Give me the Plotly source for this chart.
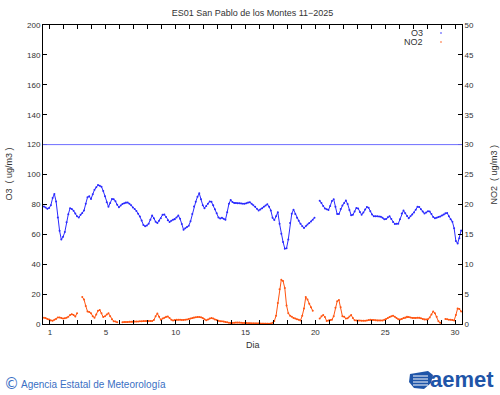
import plotly.graph_objects as go

# ---- data: 3-hourly readings (8 per day), days 1..30 of November 2025 ----
days = list(range(1, 31))
slots_per_day = 8

o3_by_day = [
    [78.6, 77.9, 77.1, 77.6, 79.5, 84.2, 87.0, 82.0],
    [71.3, 62.3, 56.5, 58.3, 61.5, 68.0, 73.4, 77.4],
    [76.9, 75.8, 73.9, 72.0, 71.3, 73.0, 74.2, 75.9],
    [80.5, 84.8, 85.4, 83.6, 86.8, 89.8, 91.4, 92.9],
    [92.5, 91.8, 89.0, 85.5, 81.5, 78.4, 81.0, 83.6],
    [83.5, 82.1, 79.7, 78.1, 79.2, 80.3, 80.7, 81.2],
    [81.2, 80.4, 79.4, 78.0, 77.0, 75.6, 73.8, 71.9],
    [69.2, 66.3, 65.4, 65.9, 67.1, 69.8, 72.5, 70.8],
    [68.4, 67.5, 69.1, 70.8, 73.0, 73.2, 71.6, 69.4],
    [68.3, 69.1, 69.8, 70.1, 71.3, 72.6, 70.4, 66.9],
    [63.1, 64.0, 64.9, 65.8, 68.7, 73.6, 78.6, 81.8],
    [85.1, 87.4, 83.4, 79.5, 77.5, 79.0, 80.5, 82.0],
    [81.7, 79.4, 76.8, 74.0, 71.2, 70.6, 71.0, 70.4],
    [69.7, 74.8, 80.4, 83.0, 81.6, 81.0, 80.9, 80.8],
    [80.7, 80.6, 80.4, 80.5, 80.8, 81.2, 81.4, 80.4],
    [79.5, 78.4, 77.1, 76.0, 76.6, 77.5, 78.4, 79.3],
    [80.1, 78.5, 76.0, 71.0, 69.5, 72.0, 74.8, 67.0],
    [60.3, 54.9, 50.4, 50.7, 56.5, 67.5, 73.8, 76.5],
    [73.6, 71.0, 69.0, 67.0, 65.4, 64.2, 65.4, 66.5],
    [67.5, 68.5, 69.8, 71.0, None, None, 82.5, 81.0],
    [79.0, 77.3, 76.7, 76.3, 79.0, 82.3, 83.5, 78.5],
    [73.5, 73.5, 77.0, 79.2, 80.9, 82.6, 80.2, 76.3],
    [72.8, 73.0, 75.3, 77.6, 77.3, 75.0, 73.1, 74.5],
    [76.6, 78.3, 77.7, 75.5, 73.2, 72.1, 72.1, 72.0],
    [71.9, 71.8, 71.0, 70.0, 70.2, 71.4, 72.1, 70.2],
    [68.3, 66.9, 67.0, 67.1, 70.1, 73.9, 76.0, 74.0],
    [72.2, 70.8, 72.0, 73.3, 74.5, 76.4, 78.4, 78.2],
    [76.8, 75.3, 73.9, 74.6, 75.4, 75.3, 73.5, 71.6],
    [70.8, 71.1, 71.5, 71.9, 72.6, 73.3, 74.0, 74.3],
    [72.0, 70.0, 68.4, 64.0, 55.5, 53.8, 57.4, 62.5],
]

no2_by_day = [
    [1.05, 1.0, 0.85, 0.75, 0.6, 0.55, 0.7, 0.85],
    [1.1, 1.1, 1.0, 0.9, 0.95, 1.05, 1.2, 1.5],
    [1.65, 1.5, 1.25, 1.8, None, None, 4.5, 4.1],
    [3.0, 2.1, 2.0, 1.8, 1.3, 1.05, 1.6, 2.2],
    [2.35, 1.8, 1.15, 1.3, 1.6, 1.8, 1.3, 0.8],
    [0.45, 0.4, 0.3, None, None, 0.3, 0.32, 0.33],
    [0.35, 0.36, 0.37, 0.38, 0.4, 0.42, 0.43, 0.45],
    [0.47, 0.5, 0.5, 0.5, 0.5, 0.5, 0.5, 0.65],
    [1.3, 1.75, 1.2, 0.7, 0.9, 1.05, 1.2, 1.25],
    [1.0, 0.7, 0.6, 0.65, 0.7, 0.7, 0.7, 0.68],
    [0.67, 0.7, 0.75, 0.82, 0.9, 1.0, 1.08, 1.14],
    [1.17, 1.15, 1.12, 1.0, 0.8, 0.62, 0.75, 0.9],
    [1.0, 0.9, 0.75, 0.65, 0.55, 0.48, 0.45, 0.4],
    [0.35, 0.28, 0.2, 0.15, 0.18, 0.2, 0.23, 0.25],
    [0.23, 0.2, 0.18, 0.17, 0.15, 0.13, 0.12, 0.1],
    [0.1, 0.09, 0.08, 0.07, 0.06, 0.06, 0.06, 0.06],
    [0.06, 0.06, 0.08, 0.2, 0.5, 1.4, 3.5, 5.8],
    [7.4, 7.2, 6.0, 3.1, 1.8, 1.4, 1.2, 1.0],
    [0.9, 0.8, 0.72, 0.6, 1.4, 2.6, 4.5, 4.1],
    [3.4, 2.8, 2.2, None, None, None, 0.9, 1.3],
    [1.5, 1.15, 0.5, 0.6, 0.68, 0.7, 1.3, 2.7],
    [3.8, 4.0, 2.8, 1.3, 1.2, 0.9, 0.95, 1.25],
    [1.5, 1.0, 0.62, 0.58, 0.6, 0.58, 0.55, 0.55],
    [0.55, 0.6, 0.68, 0.7, 0.68, 0.65, 0.62, 0.6],
    [0.6, 0.6, 0.6, 0.7, 0.85, 1.0, 1.15, 1.3],
    [1.4, 1.2, 1.0, 0.8, 0.77, 0.85, 1.0, 1.1],
    [1.2, 1.15, 1.08, 1.02, 1.0, 1.02, 1.04, 1.05],
    [0.95, 0.85, 0.75, 0.77, 0.8, 1.1, 1.6, 2.1],
    [1.8, 1.2, 0.45, 0.2, None, None, 0.85, 0.8],
    [0.72, 0.7, 0.65, 0.6, 1.5, 2.6, 2.5, 2.1],
]

x_tick_labels = [1, 5, 10, 15, 20, 25, 30]
o3_threshold = 120

# time axis: each day's readings are centred on the day number
times, o3, no2 = [], [], []
for d, o_row, n_row in zip(days, o3_by_day, no2_by_day):
    for s in range(slots_per_day):
        times.append(d - 0.5 + (s + 0.5) / slots_per_day)
        o3.append(o_row[s])
        no2.append(n_row[s])

BLUE = "#2a2aff"
ORANGE = "#ff5511"
FONT = "Liberation Sans"
TXT = "#333333"

fig = go.Figure()
fig.add_trace(go.Scatter(x=times, y=o3, mode="lines+markers", name="O3",
                         line=dict(color=BLUE, width=1.0),
                         marker=dict(color=BLUE, size=2.0), yaxis="y",
                         connectgaps=False, showlegend=False))
fig.add_trace(go.Scatter(x=times, y=no2, mode="lines+markers", name="NO2",
                         line=dict(color=ORANGE, width=1.0),
                         marker=dict(color=ORANGE, size=2.0), yaxis="y2",
                         connectgaps=False, showlegend=False))

fig.add_shape(type="line", xref="paper", x0=0, x1=1, yref="y",
              y0=o3_threshold, y1=o3_threshold,
              line=dict(color="#6f6fff", width=1))

fig.update_layout(
    width=500, height=395,
    margin=dict(l=43, r=38, t=25, b=71),
    paper_bgcolor="white", plot_bgcolor="white",
    font=dict(family=FONT, size=8, color=TXT),
    title=dict(text="ES01 San Pablo de los Montes 11\u22122025",
               x=0.5, xref="paper", y=1 - 12.7 / 395, yanchor="middle",
               font=dict(family=FONT, size=9, color=TXT)),
    xaxis=dict(range=[0.5, 30.5], tickmode="array", tickvals=x_tick_labels,
               ticks="inside", ticklen=4, tickcolor="black",
               showline=True, linecolor="black", linewidth=1, mirror="ticks",
               showgrid=False, zeroline=False,
               minor=dict(tickmode="array", tickvals=days, ticks="inside",
                          ticklen=4, tickcolor="black", showgrid=False)),
    yaxis=dict(range=[0, 200], dtick=20, ticks="inside", ticklen=4,
               tickcolor="black", showline=True, linecolor="black",
               linewidth=1, mirror=True, showgrid=False, zeroline=False),
    yaxis2=dict(range=[0, 50], dtick=5, ticks="inside", ticklen=4,
                tickcolor="black", overlaying="y", side="right",
                showline=True, linecolor="black", linewidth=1,
                showgrid=False, zeroline=False),
)

def px_x(px):
    return (px - 43) / 419.0

def px_y(py):
    return (324 - py) / 299.0

annos = [
    dict(text="Dia", x=0.5, y=px_y(345), font=dict(size=9)),
    dict(text="O3  ( ug/m3 )", x=px_x(8), y=0.5, textangle=-90, font=dict(size=9)),
    dict(text="NO2  ( ug/m3 )", x=px_x(493), y=0.5, textangle=-90, font=dict(size=9)),
    dict(text="O3", x=px_x(425), y=px_y(33), xanchor="right", font=dict(size=9)),
    dict(text="NO2", x=px_x(425), y=px_y(42), xanchor="right", font=dict(size=9)),
    dict(text="\u00a9", x=px_x(2), y=px_y(384), xanchor="left",
         font=dict(size=15, color="#3a6fc4", family="DejaVu Sans")),
    dict(text="Agencia Estatal de Meteorolog\u00eda", x=px_x(19), y=px_y(384),
         xanchor="left", font=dict(size=10, color="#3a6fc4", family="Liberation Sans")),
    dict(text="<b>aemet</b>", x=px_x(496), y=px_y(380), xanchor="right",
         font=dict(size=22, color="#1f55a8", family="Liberation Sans")),
]
for a in annos:
    a.setdefault("xref", "paper")
    a.setdefault("yref", "paper")
    a.setdefault("showarrow", False)
    a.setdefault("yanchor", "middle")
    a.setdefault("xanchor", "center")
    fig.add_annotation(**a)

# legend sample dots
for py, col in [(33, BLUE), (42, ORANGE)]:
    fig.add_shape(type="circle", xref="paper", yref="paper",
                  x0=px_x(440.2), x1=px_x(441.8), y0=px_y(py + 0.8), y1=px_y(py - 0.8),
                  fillcolor=col, line=dict(width=0))

# simple aemet emblem
emblem = "M 410 374 L 428 371 L 433 375 L 431 383 L 424 389 L 414 388 L 409 382 Z"
def to_paper_path(p):
    out = []
    toks = p.split()
    i = 0
    while i < len(toks):
        t = toks[i]
        if t in ("M", "L"):
            xx = px_x(float(toks[i + 1])); yy = px_y(float(toks[i + 2]))
            out.append(f"{t} {xx:.5f} {yy:.5f}")
            i += 3
        else:
            out.append(t); i += 1
    return " ".join(out)
fig.add_shape(type="path", xref="paper", yref="paper", path=to_paper_path(emblem),
              fillcolor="#1f55a8", line=dict(width=0))
for yy in (376, 379, 382, 385):
    fig.add_shape(type="line", xref="paper", yref="paper",
                  x0=px_x(413), x1=px_x(428), y0=px_y(yy), y1=px_y(yy),
                  line=dict(color="white", width=1))

fig.write_html("out.html", config={"displayModeBar": False},
               post_script="document.body.style.margin='0';document.body.style.overflow='hidden';")
